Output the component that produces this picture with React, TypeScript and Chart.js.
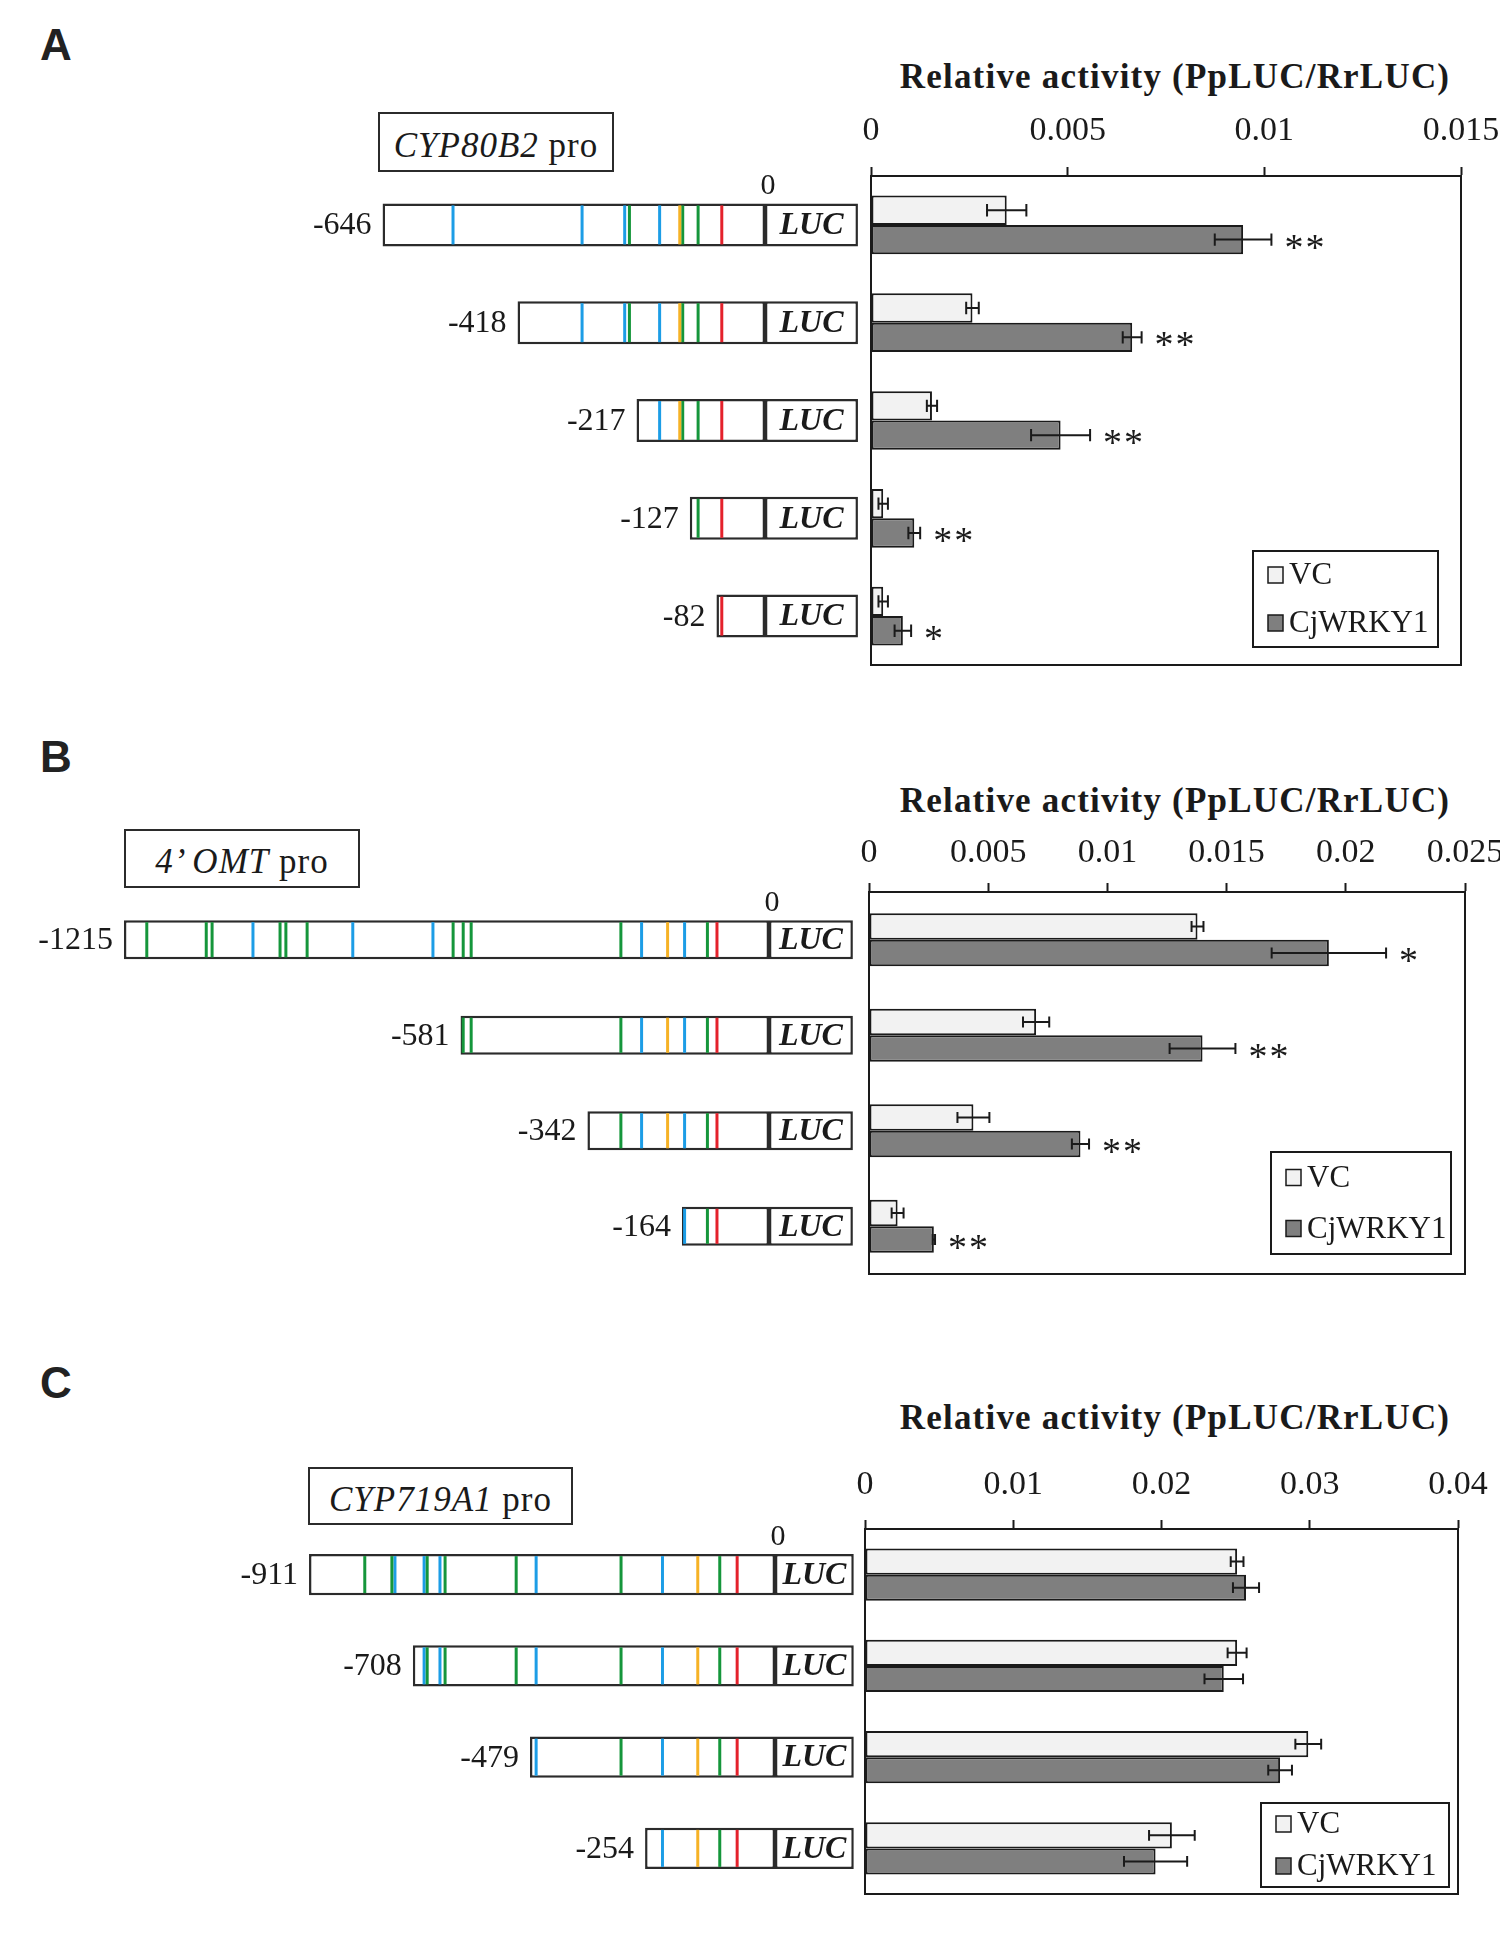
import React, { useEffect, useRef } from "react";
import { Chart, registerables } from "chart.js";

Chart.register(...registerables);

const SERIF = "'Liberation Serif', 'Times New Roman', serif";
const SANS = "'Liberation Sans', Arial, sans-serif";
const INK = "#1a1a1a";

const BLUE = "#1C9DE6";
const GREEN = "#15963B";
const ORANGE = "#F6B226";
const RED = "#E4212B";

const SERIES = ["VC", "CjWRKY1"];

// ---------------- Panel A : CYP80B2 promoter ----------------
const A_CONSTRUCTS = ["-646", "-418", "-217", "-127", "-82"];
const A_STARTS = [-646, -418, -217, -127, -82];
const A_BLUE = [-527, -309, -237, -178];
const A_GREEN = [-229, -139, -113];
const A_ORANGE = [-144];
const A_RED = [-73];
const A_VC = [0.00345, 0.00258, 0.00155, 0.00031, 0.00031];
const A_VC_ERR = [0.0005, 0.00016, 0.00013, 0.00012, 0.00012];
const A_CJ = [0.00946, 0.00664, 0.00482, 0.0011, 0.00081];
const A_CJ_ERR = [0.00072, 0.00024, 0.00075, 0.00015, 0.00021];
const A_SIG = ["**", "**", "**", "**", "*"];
const A_TICKS = ["0", "0.005", "0.01", "0.015"];

// ---------------- Panel B : 4'OMT promoter ----------------
const B_CONSTRUCTS = ["-1215", "-581", "-342", "-164"];
const B_STARTS = [-1215, -581, -342, -164];
const B_GREEN = [-1172, -1060, -1049, -921, -910, -870, -595, -576, -561, -279, -116];
const B_BLUE = [-972, -784, -633, -240, -159];
const B_ORANGE = [-191];
const B_RED = [-98];
const B_VC = [0.01378, 0.00701, 0.00438, 0.0012];
const B_VC_ERR = [0.00025, 0.00055, 0.00067, 0.00025];
const B_CJ = [0.01929, 0.01399, 0.00887, 0.00272];
const B_CJ_ERR = [0.0024, 0.00138, 0.00036, 0.00005];
const B_SIG = ["*", "**", "**", "**"];
const B_TICKS = ["0", "0.005", "0.01", "0.015", "0.02", "0.025"];

// ---------------- Panel C : CYP719A1 promoter ----------------
const C_CONSTRUCTS = ["-911", "-708", "-479", "-254"];
const C_STARTS = [-911, -708, -479, -254];
const C_GREEN = [-802, -749, -680, -645, -506, -301, -108];
const C_BLUE = [-743, -686, -655, -467, -220];
const C_ORANGE = [-151];
const C_RED = [-74];
const C_VC = [0.0251, 0.0251, 0.0299, 0.0207];
const C_VC_ERR = [0.00043, 0.00064, 0.00087, 0.00154];
const C_CJ = [0.0257, 0.0242, 0.028, 0.0196];
const C_CJ_ERR = [0.00088, 0.0013, 0.0008, 0.00213];
const C_SIG = ["", "", "", ""];
const C_TICKS = ["0", "0.01", "0.02", "0.03", "0.04"];

const LUC_LEN = 157;

// ---------------- plugins ----------------
const promoterPlugin = (p: any) => ({
  id: "promoter",
  afterDatasetsDraw(chart: any) {
    const ctx = chart.ctx;
    const xs = chart.scales.x;
    const meta = chart.getDatasetMeta(0);
    const x0 = xs.getPixelForValue(0);
    const xL = xs.getPixelForValue(p.lucLen);
    ctx.save();
    meta.data.forEach((bar: any, i: number) => {
      const y = bar.y;
      const h = bar.height;
      const start = p.starts[i];
      p.motifs.forEach((m: any) =>
        m.pos.forEach((pos: number) => {
          if (pos <= start + 2) return;
          const px = xs.getPixelForValue(pos);
          ctx.strokeStyle = m.color;
          ctx.lineWidth = 3;
          ctx.beginPath();
          ctx.moveTo(px, y - h / 2 + 2);
          ctx.lineTo(px, y + h / 2 - 2);
          ctx.stroke();
        })
      );
      ctx.fillStyle = INK;
      ctx.font = `32px ${SERIF}`;
      ctx.textAlign = "right";
      ctx.textBaseline = "middle";
      ctx.fillText(p.labels[i], xs.getPixelForValue(start) - 11, y + 1);
      ctx.font = `italic bold 32px ${SERIF}`;
      ctx.textAlign = "center";
      ctx.fillText("LUC", (x0 + xL) / 2, y + 1);
      if (i === 0) {
        ctx.font = `30px ${SERIF}`;
        ctx.textBaseline = "alphabetic";
        ctx.fillText("0", x0 + 3, y - h / 2 - 9);
      }
    });
    ctx.restore();
  },
});

const framePlugin = {
  id: "frame",
  afterDatasetsDraw(chart: any) {
    const { left, top, right, bottom } = chart.chartArea;
    const ctx = chart.ctx;
    ctx.save();
    ctx.strokeStyle = INK;
    ctx.lineWidth = 2;
    ctx.strokeRect(left, top, right - left, bottom - top);
    ctx.restore();
  },
};

const errorPlugin = {
  id: "errs",
  afterDatasetsDraw(chart: any) {
    const ctx = chart.ctx;
    const xs = chart.scales.x;
    ctx.save();
    chart.data.datasets.forEach((ds: any, di: number) => {
      const meta = chart.getDatasetMeta(di);
      meta.data.forEach((bar: any, i: number) => {
        const v = ds.data[i];
        const e = ds.errors[i];
        const y = bar.y;
        const h = bar.height;
        const x1 = xs.getPixelForValue(v - e);
        const x2 = xs.getPixelForValue(v + e);
        const c = h * 0.21;
        ctx.strokeStyle = INK;
        ctx.lineWidth = 2;
        ctx.beginPath();
        ctx.moveTo(x1, y);
        ctx.lineTo(x2, y);
        ctx.moveTo(x1, y - c);
        ctx.lineTo(x1, y + c);
        ctx.moveTo(x2, y - c);
        ctx.lineTo(x2, y + c);
        ctx.stroke();
        if (ds.marks && ds.marks[i]) {
          ctx.fillStyle = INK;
          ctx.font = `38px ${SERIF}`;
          ctx.textAlign = "left";
          ctx.textBaseline = "alphabetic";
          const s: string = ds.marks[i];
          for (let k = 0; k < s.length; k++) {
            ctx.fillText(s[k], x2 + 13 + k * 21, y + 20);
          }
        }
      });
    });
    ctx.restore();
  },
};

const legendPlugin = (L: any) => ({
  id: "legendBox",
  afterDraw(chart: any) {
    const { right, bottom } = chart.chartArea;
    const ctx = chart.ctx;
    const x0 = right - L.rightGap - L.w;
    const y0 = bottom - L.bottomGap - L.h;
    ctx.save();
    ctx.fillStyle = "#ffffff";
    ctx.fillRect(x0, y0, L.w, L.h);
    ctx.strokeStyle = INK;
    ctx.lineWidth = 2;
    ctx.strokeRect(x0, y0, L.w, L.h);
    chart.data.datasets.forEach((ds: any, k: number) => {
      const cy = y0 + L.h * (k === 0 ? 0.25 : 0.75);
      ctx.fillStyle = ds.backgroundColor;
      ctx.fillRect(x0 + 15, cy - 8, 15, 16);
      ctx.lineWidth = 1.5;
      ctx.strokeStyle = INK;
      ctx.strokeRect(x0 + 15, cy - 8, 15, 16);
      ctx.fillStyle = INK;
      ctx.font = `31px ${SERIF}`;
      ctx.textAlign = "left";
      ctx.textBaseline = "middle";
      ctx.fillText(ds.label, x0 + 36, cy + 1);
    });
    ctx.restore();
  },
});

// ---------------- components ----------------
function PromoterChart(p: any) {
  const ref = useRef<HTMLCanvasElement>(null);
  const W = 866;
  const PADT = 40;
  const PADB = 20;
  const top = p.plotTop - PADT;
  const H = p.plotBottom - p.plotTop + PADT + PADB;
  useEffect(() => {
    const min = -p.zeroX / p.pxPerBp;
    const max = (W - p.zeroX) / p.pxPerBp;
    const boxStyle = {
      backgroundColor: "#ffffff",
      borderColor: "#2b2b2b",
      borderWidth: 2.5,
      borderSkipped: false,
      grouped: false,
      barPercentage: p.boxPct,
      categoryPercentage: 1,
    };
    const chart = new Chart(ref.current as HTMLCanvasElement, {
      type: "bar",
      data: {
        labels: p.labels,
        datasets: [
          { label: "promoter", data: p.starts.map((s: number) => [s, 0]), ...boxStyle } as any,
          { label: "LUC", data: p.starts.map(() => [0, p.lucLen]), ...boxStyle } as any,
        ],
      },
      options: {
        indexAxis: "y",
        responsive: false,
        animation: false,
        events: [],
        layout: { padding: { top: PADT, bottom: PADB, left: 0, right: 0 } },
        scales: {
          x: { type: "linear", min, max, display: false },
          y: { type: "category", display: false, offset: true },
        },
        plugins: { legend: { display: false }, tooltip: { enabled: false } },
      } as any,
      plugins: [promoterPlugin(p)],
    });
    return () => chart.destroy();
  }, []);
  return (
    <canvas
      ref={ref}
      width={W}
      height={H}
      style={{ position: "absolute", left: 0, top, width: W, height: H }}
    />
  );
}

function ActivityChart(p: any) {
  const ref = useRef<HTMLCanvasElement>(null);
  const CL = 800;
  const CR = 1540;
  const W = CR - CL;
  const top = p.plotTop - 80;
  const H = p.plotBottom + 20 - top;
  useEffect(() => {
    const barStyle = {
      borderColor: INK,
      borderWidth: 2,
      borderSkipped: false,
      categoryPercentage: p.catPct,
      barPercentage: 1,
    };
    const chart = new Chart(ref.current as HTMLCanvasElement, {
      type: "bar",
      data: {
        labels: p.labels,
        datasets: [
          { label: SERIES[0], data: p.vc, errors: p.vcErr, backgroundColor: "#F2F2F2", ...barStyle } as any,
          { label: SERIES[1], data: p.cj, errors: p.cjErr, marks: p.sig, backgroundColor: "#7F7F7F", ...barStyle } as any,
        ],
      },
      options: {
        indexAxis: "y",
        responsive: false,
        animation: false,
        events: [],
        layout: { padding: { left: p.plotLeft - CL, right: CR - p.plotRight, top: 20, bottom: 20 } },
        scales: {
          x: {
            type: "linear",
            position: "top",
            min: 0,
            max: p.max,
            afterFit: (s: any) => {
              s.height = 60;
            },
            ticks: {
              stepSize: p.step,
              padding: p.tickPad,
              maxRotation: 0,
              autoSkip: false,
              color: INK,
              font: { family: SERIF, size: 34 },
              callback: (v: any) => p.tickLabels.find((t: string) => Math.abs(Number(t) - v) < 1e-9) ?? "",
            },
            grid: { drawOnChartArea: false, drawTicks: true, tickLength: 9, tickColor: INK, tickWidth: 2, color: INK },
            border: { display: true, color: INK, width: 2 },
          },
          y: { type: "category", display: false, offset: true },
        },
        plugins: { legend: { display: false }, tooltip: { enabled: false } },
      } as any,
      plugins: [framePlugin, errorPlugin, legendPlugin(p.legend)],
    });
    return () => chart.destroy();
  }, []);
  return (
    <canvas
      ref={ref}
      width={W}
      height={H}
      style={{ position: "absolute", left: CL, top, width: W, height: H }}
    />
  );
}

function PanelLetter({ text, top }: any) {
  return (
    <div
      style={{
        position: "absolute",
        left: 40,
        top,
        fontFamily: SANS,
        fontWeight: "bold",
        fontSize: 44,
        lineHeight: "44px",
        color: "#222",
      }}
    >
      {text}
    </div>
  );
}

function AxisTitle({ top }: any) {
  return (
    <div
      style={{
        position: "absolute",
        left: 875,
        width: 600,
        top,
        textAlign: "center",
        fontFamily: SERIF,
        fontWeight: "bold",
        fontSize: 35,
        lineHeight: "35px",
        letterSpacing: 1.2,
        color: INK,
        whiteSpace: "nowrap",
      }}
    >
      Relative activity (PpLUC/RrLUC)
    </div>
  );
}

function PromoterTitle({ left, top, width, height, italic, plain }: any) {
  return (
    <div
      style={{
        position: "absolute",
        left,
        top,
        width,
        height,
        boxSizing: "border-box",
        border: "2px solid #2b2b2b",
        display: "flex",
        alignItems: "center",
        justifyContent: "center",
        fontFamily: SERIF,
        fontSize: 35,
        lineHeight: "35px",
        letterSpacing: 1,
        color: INK,
        paddingTop: 6,
        whiteSpace: "nowrap",
        background: "#fff",
      }}
    >
      <span>
        <span style={{ fontStyle: "italic" }}>{italic}</span>
        {plain}
      </span>
    </div>
  );
}

export default function App() {
  const motifsA = [
    { color: BLUE, pos: A_BLUE },
    { color: GREEN, pos: A_GREEN },
    { color: ORANGE, pos: A_ORANGE },
    { color: RED, pos: A_RED },
  ];
  const motifsB = [
    { color: BLUE, pos: B_BLUE },
    { color: GREEN, pos: B_GREEN },
    { color: ORANGE, pos: B_ORANGE },
    { color: RED, pos: B_RED },
  ];
  const motifsC = [
    { color: BLUE, pos: C_BLUE },
    { color: GREEN, pos: C_GREEN },
    { color: ORANGE, pos: C_ORANGE },
    { color: RED, pos: C_RED },
  ];
  return (
    <div
      style={{
        position: "absolute",
        left: 0,
        top: 0,
        width: 1500,
        height: 1949,
        overflow: "hidden",
        background: "#ffffff",
      }}
    >
      {/* Panel A */}
      <PanelLetter text="A" top={23} />
      <AxisTitle top={59} />
      <PromoterTitle left={378} top={112} width={236} height={60} italic="CYP80B2" plain={"\u00A0pro"} />
      <PromoterChart
        labels={A_CONSTRUCTS}
        starts={A_STARTS}
        motifs={motifsA}
        lucLen={LUC_LEN}
        zeroX={765}
        pxPerBp={0.592}
        plotTop={176}
        plotBottom={665}
        boxPct={0.44}
      />
      <ActivityChart
        labels={A_CONSTRUCTS}
        vc={A_VC}
        vcErr={A_VC_ERR}
        cj={A_CJ}
        cjErr={A_CJ_ERR}
        sig={A_SIG}
        max={0.015}
        step={0.005}
        tickLabels={A_TICKS}
        tickPad={16}
        plotLeft={871}
        plotRight={1461}
        plotTop={176}
        plotBottom={665}
        catPct={0.6}
        legend={{ rightGap: 23, bottomGap: 18, w: 185, h: 96 }}
      />

      {/* Panel B */}
      <PanelLetter text="B" top={735} />
      <AxisTitle top={783} />
      <PromoterTitle left={124} top={829} width={236} height={59} italic={"4\u2019 OMT"} plain={"\u00A0pro"} />
      <PromoterChart
        labels={B_CONSTRUCTS}
        starts={B_STARTS}
        motifs={motifsB}
        lucLen={158}
        zeroX={769}
        pxPerBp={0.5309}
        plotTop={892}
        plotBottom={1274}
        boxPct={0.41}
      />
      <ActivityChart
        labels={B_CONSTRUCTS}
        vc={B_VC}
        vcErr={B_VC_ERR}
        cj={B_CJ}
        cjErr={B_CJ_ERR}
        sig={B_SIG}
        max={0.025}
        step={0.005}
        tickLabels={B_TICKS}
        tickPad={10}
        plotLeft={869}
        plotRight={1465}
        plotTop={892}
        plotBottom={1274}
        catPct={0.555}
        legend={{ rightGap: 14, bottomGap: 20, w: 180, h: 102 }}
      />

      {/* Panel C */}
      <PanelLetter text="C" top={1361} />
      <AxisTitle top={1400} />
      <PromoterTitle left={308} top={1467} width={265} height={58} italic="CYP719A1" plain={"\u00A0pro"} />
      <PromoterChart
        labels={C_CONSTRUCTS}
        starts={C_STARTS}
        motifs={motifsC}
        lucLen={154}
        zeroX={775}
        pxPerBp={0.5115}
        plotTop={1529}
        plotBottom={1894}
        boxPct={0.45}
      />
      <ActivityChart
        labels={C_CONSTRUCTS}
        vc={C_VC}
        vcErr={C_VC_ERR}
        cj={C_CJ}
        cjErr={C_CJ_ERR}
        sig={C_SIG}
        max={0.04}
        step={0.01}
        tickLabels={C_TICKS}
        tickPad={15}
        plotLeft={865}
        plotRight={1458}
        plotTop={1529}
        plotBottom={1894}
        catPct={0.57}
        legend={{ rightGap: 9, bottomGap: 7, w: 188, h: 84 }}
      />
    </div>
  );
}
